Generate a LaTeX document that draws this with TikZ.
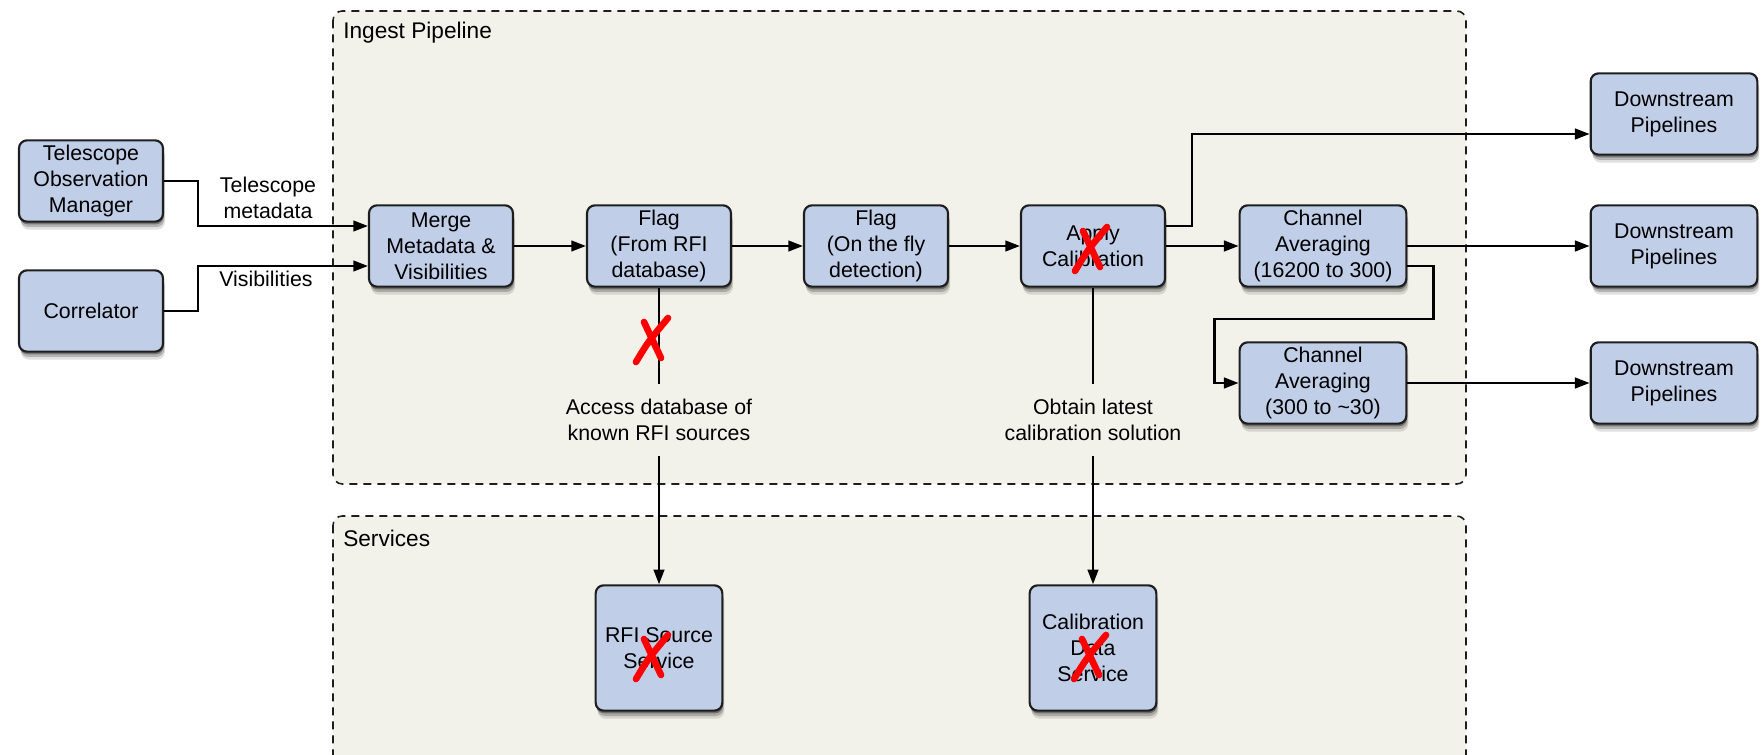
\documentclass[tikz,border=0pt]{standalone}
\usepackage{fontspec}
\setmainfont{Liberation Sans}
\usetikzlibrary{arrows.meta,shadows,calc}
\definecolor{nodefill}{RGB}{192,206,232}
\definecolor{groupfill}{RGB}{243,242,234}
\definecolor{edgecol}{RGB}{30,30,30}
\begin{document}
\begin{tikzpicture}[x=0.75pt,y=-0.75pt,
  font=\fontsize{16}{19.5}\selectfont,
  box/.style={draw=edgecol, line width=1.6pt, fill=nodefill, rounded corners=6pt,
    align=center, minimum width=108pt, minimum height=61pt, inner sep=2pt,
    drop shadow={shadow xshift=1.5pt, shadow yshift=-6pt, opacity=0.12, fill=black},
    drop shadow={shadow xshift=1pt, shadow yshift=-4pt, opacity=0.2, fill=black},
    drop shadow={shadow xshift=0.5pt, shadow yshift=-2pt, opacity=0.35, fill=black}},
  widebox/.style={box, minimum width=125pt},
  svcbox/.style={box, minimum width=95pt, minimum height=94pt},
  group/.style={draw=edgecol, line width=1.2pt, dash pattern=on 6pt off 4.5pt,
    fill=groupfill, rounded corners=7pt},
  grouplabel/.style={anchor=west, inner sep=0pt, font=\fontsize{17}{20}\selectfont},
  lbl/.style={align=center, inner sep=0pt},
  arr/.style={draw=black, line width=1.7pt, -{Triangle[length=11pt,width=8pt]}},
  ln/.style={draw=black, line width=1.7pt},
  redx/.pic={
    \draw[red, line width=5pt, line cap=round] (-16,22) .. controls (-4,2) .. (16,-22);
    \draw[red, line width=5pt, line cap=round] (-8,-18) -- (9,18);
  }
]
\clip (0,0) rectangle (1764,755);
\useasboundingbox (0,0) rectangle (1764,755);

% groups
\draw[group] (333,11) rectangle (1466,484);
\draw[group] (333,516) rectangle (1466,800);
\node[grouplabel] (glab1) at (343,33) {Ingest Pipeline};
\node[grouplabel] (glab2) at (343,538) {Services};

% nodes
\node[box] (tom) at (91,181) {Telescope\\Observation\\Manager};
\node[box] (corr) at (91,311) {Correlator};
\node[box] (merge) at (441,246) {Merge\\Metadata \&\\Visibilities};
\node[box] (flag1) at (659,246) {Flag\\(From RFI\\database)};
\node[box] (flag2) at (876,246) {Flag\\(On the fly\\detection)};
\node[box] (apply) at (1093,246) {Apply\\Calibration};
\node[widebox] (ch1) at (1323,246) {Channel\\Averaging\\(16200 to 300)};
\node[widebox] (ch2) at (1323,383) {Channel\\Averaging\\(300 to \textasciitilde30)};
\node[widebox] (ds1) at (1674,114) {Downstream\\Pipelines};
\node[widebox] (ds2) at (1674,246) {Downstream\\Pipelines};
\node[widebox] (ds3) at (1674,383) {Downstream\\Pipelines};
\node[svcbox] (rfi) at (659,648) {RFI Source\\Service};
\node[svcbox] (cal) at (1093,648) {Calibration\\Data\\Service};

% edge labels
\node[lbl] (tmeta) at (268,198) {Telescope\\metadata};
\node[lbl] (vis) at (266,279) {Visibilities};
\node[lbl, minimum height=54pt] (lab1) at (659,420) {Access database of\\known RFI sources};
\node[lbl, minimum height=54pt] (lab2) at (1093,420) {Obtain latest\\calibration solution};

% connectors
\draw[arr] (tom.east) -- ++(34,0) |- ([yshift=15pt]merge.west);
\draw[arr] (corr.east) -- ++(34,0) |- ([yshift=-15pt]merge.west);
\draw[arr] (merge) -- (flag1);
\draw[arr] (flag1) -- (flag2);
\draw[arr] (flag2) -- (apply);
\draw[arr] (apply) -- (ch1);
\draw[arr] ([yshift=15pt]apply.east) -- ++(26,0) |- ([yshift=-15pt]ds1.west);
\draw[arr] (ch1) -- (ds2);
\draw[arr] ([yshift=-15pt]ch1.east) -- ++(26,0) -- ++(0,53) -| ($(ch2.west)+(-24,0)$) -- (ch2.west);
\draw[arr] (ch2) -- (ds3);
\draw[ln] (flag1.south) -- (lab1.north);
\draw[arr] (lab1.south) -- (rfi.north);
\draw[ln] (apply.south) -- (lab2.north);
\draw[arr] (lab2.south) -- (cal.north);

% red crosses
\pic at (652,340) {redx};
\pic at (1091,249) {redx};
\pic at (652,657) {redx};
\pic at (1090,657) {redx};
\end{tikzpicture}
\end{document}
